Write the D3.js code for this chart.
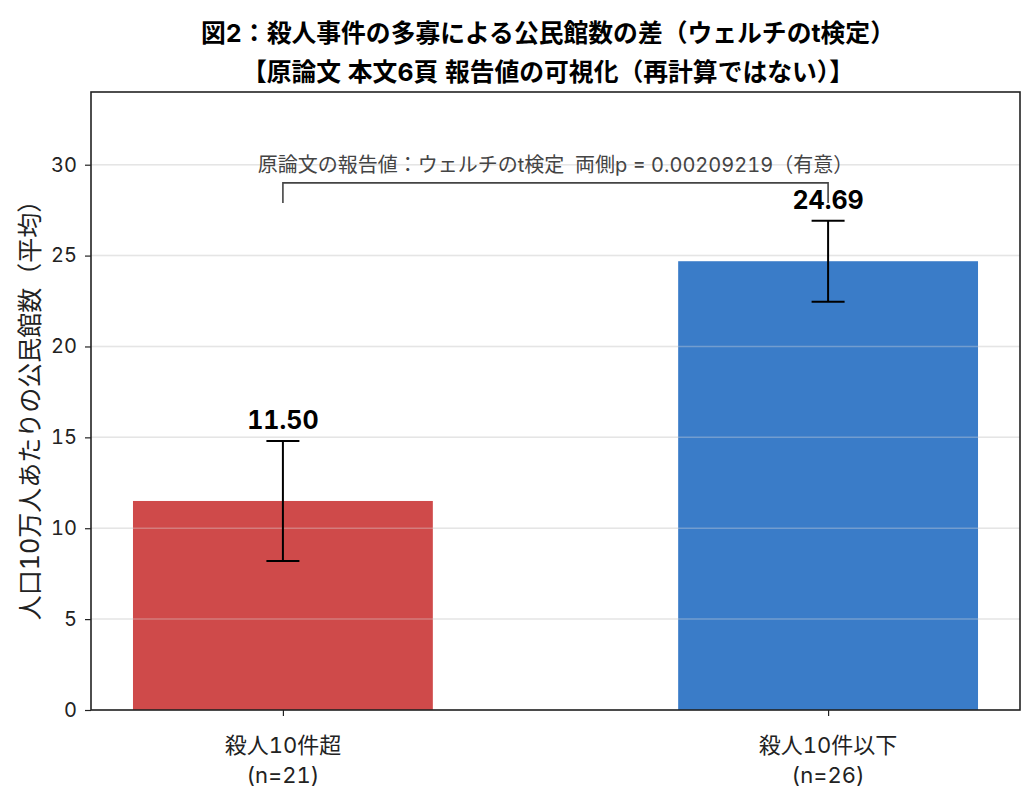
<!DOCTYPE html>
<html>
<head>
<meta charset="utf-8">
<script src="https://cdn.jsdelivr.net/npm/d3@7"></script>
<style>
  body { margin: 0; background: #fff; }
  text {
    font-family: "Inter", "Noto Sans CJK JP", "Noto Sans", sans-serif;
    font-variant-numeric: tabular-nums;
  }
</style>
</head>
<body>
<svg id="chart" width="1035" height="809"></svg>
<script>
// chart values
var groups = ["殺人10件超", "殺人10件以下"];
var groupN = ["(n=21)", "(n=26)"];
var means = [11.50, 24.69];
var errors = [3.30, 2.23];
var barColors = ["#cf4a4a", "#3a7cc8"];
var yTicks = [0, 5, 10, 15, 20, 25, 30];
var titleLines = [
    "図2：殺人事件の多寡による公民館数の差（ウェルチのt検定）",
    "【原論文 本文6頁 報告値の可視化（再計算ではない）】"
];
var yLabel = "人口10万人あたりの公民館数（平均）";
var bracketLabel = "原論文の報告値：ウェルチのt検定  両側p = 0.00209219（有意）";
var bracketLevel = 29.0;
var bracketDrop = 1.1;

var svg = d3.select("#chart");

var plotLeft = 91, plotRight = 1020, plotTop = 92, plotBottom = 710;

var x = d3.scaleLinear()
    .domain([-0.352, 1.352])
    .range([plotLeft, plotRight]);

var y = d3.scaleLinear()
    .domain([0, 34])
    .range([plotBottom, plotTop]);

var barWidth = 0.55;

// grid under the bars
svg.append("g")
    .selectAll("line")
    .data(yTicks)
    .enter()
    .append("line")
    .attr("x1", plotLeft)
    .attr("x2", plotRight)
    .attr("y1", function (d) { return y(d); })
    .attr("y2", function (d) { return y(d); })
    .style("stroke", "#b8b8b8")
    .style("stroke-opacity", 0.3)
    .style("stroke-width", 1.5);

// bars
svg.append("g")
    .selectAll("rect")
    .data(means)
    .enter()
    .append("rect")
    .attr("x", function (d, i) { return x(i - barWidth / 2); })
    .attr("width", function () { return x(barWidth) - x(0); })
    .attr("y", function (d) { return y(d); })
    .attr("height", function (d) { return y(0) - y(d); })
    .style("fill", function (d, i) { return barColors[i]; });

// faint grid on top of the bars as well
svg.append("g")
    .selectAll("line")
    .data(yTicks.filter(function (t) { return t > 0; }))
    .enter()
    .append("line")
    .attr("x1", plotLeft)
    .attr("x2", plotRight)
    .attr("y1", function (d) { return y(d); })
    .attr("y2", function (d) { return y(d); })
    .style("stroke", "#dddddd")
    .style("stroke-opacity", 0.35)
    .style("stroke-width", 1.5);

// error bars
var errG = svg.append("g")
    .selectAll("g")
    .data(means)
    .enter()
    .append("g");

errG.append("line")
    .attr("x1", function (d, i) { return x(i); })
    .attr("x2", function (d, i) { return x(i); })
    .attr("y1", function (d, i) { return y(d - errors[i]); })
    .attr("y2", function (d, i) { return y(d + errors[i]); })
    .style("stroke", "#000")
    .style("stroke-width", 2);

[-1, 1].forEach(function (s) {
    errG.append("line")
        .attr("x1", function (d, i) { return x(i) - 16.5; })
        .attr("x2", function (d, i) { return x(i) + 16.5; })
        .attr("y1", function (d, i) { return y(d + s * errors[i]); })
        .attr("y2", function (d, i) { return y(d + s * errors[i]); })
        .style("stroke", "#000")
        .style("stroke-width", 2);
});

// value labels
svg.append("g")
    .selectAll("text")
    .data(means)
    .enter()
    .append("text")
    .attr("x", function (d, i) { return x(i); })
    .attr("y", function (d, i) { return y(d + errors[i] + 0.65); })
    .attr("text-anchor", "middle")
    .style("font-size", "25px")
    .style("font-weight", "bold")
    .style("fill", "#000")
    .text(function (d) { return d.toFixed(2); });

// significance bracket
var bracket = d3.path();
bracket.moveTo(x(0), y(bracketLevel - bracketDrop));
bracket.lineTo(x(0), y(bracketLevel));
bracket.lineTo(x(1), y(bracketLevel));
bracket.lineTo(x(1), y(bracketLevel - bracketDrop));

svg.append("path")
    .attr("d", bracket.toString())
    .style("fill", "none")
    .style("stroke", "#444")
    .style("stroke-width", 1.6);

svg.append("text")
    .attr("x", (x(0) + x(1)) / 2)
    .attr("y", y(bracketLevel) - 11)
    .attr("text-anchor", "middle")
    .style("white-space", "pre")
    .style("font-size", "20px")
    .style("fill", "#444")
    .text(bracketLabel);

// axes
var yAxis = d3.axisLeft(y).tickValues(yTicks).tickSize(6).tickPadding(8);
var yG = svg.append("g")
    .attr("transform", "translate(" + plotLeft + ",0)")
    .call(yAxis);
yG.select(".domain").remove();
yG.selectAll("text").style("font-size", "20px").style("fill", "#222");
yG.selectAll("line").style("stroke", "#222").style("stroke-width", 1.2);

var xAxis = d3.axisBottom(x).tickValues([0, 1]).tickSize(6).tickFormat("");
var xG = svg.append("g")
    .attr("transform", "translate(0," + plotBottom + ")")
    .call(xAxis);
xG.select(".domain").remove();
xG.selectAll("line").style("stroke", "#222").style("stroke-width", 1.2);

var xLabels = svg.append("g")
    .selectAll("text")
    .data(groups)
    .enter()
    .append("text")
    .attr("x", function (d, i) { return x(i); })
    .attr("y", plotBottom + 43)
    .attr("text-anchor", "middle")
    .style("font-size", "22px")
    .style("fill", "#222");

xLabels.append("tspan")
    .attr("x", function (d, i) { return x(i); })
    .text(function (d) { return d; });
xLabels.append("tspan")
    .attr("x", function (d, i) { return x(i); })
    .attr("dy", 30)
    .text(function (d, i) { return groupN[i]; });

// frame
svg.append("rect")
    .attr("x", plotLeft)
    .attr("y", plotTop)
    .attr("width", plotRight - plotLeft)
    .attr("height", plotBottom - plotTop)
    .style("fill", "none")
    .style("stroke", "#222")
    .style("stroke-width", 1.6);

// y label
svg.append("text")
    .attr("transform", "translate(39," + ((plotTop + plotBottom) / 2 + 3) + ") rotate(-90)")
    .attr("text-anchor", "middle")
    .style("font-size", "25px")
    .style("fill", "#222")
    .text(yLabel);

// title
svg.append("g")
    .selectAll("text")
    .data(titleLines)
    .enter()
    .append("text")
    .attr("x", 548)
    .attr("y", function (d, i) { return 42 + i * 39; })
    .attr("text-anchor", "middle")
    .style("font-size", "24.8px")
    .style("font-weight", "bold")
    .style("fill", "#000")
    .text(function (d) { return d; });
</script>
</body>
</html>
